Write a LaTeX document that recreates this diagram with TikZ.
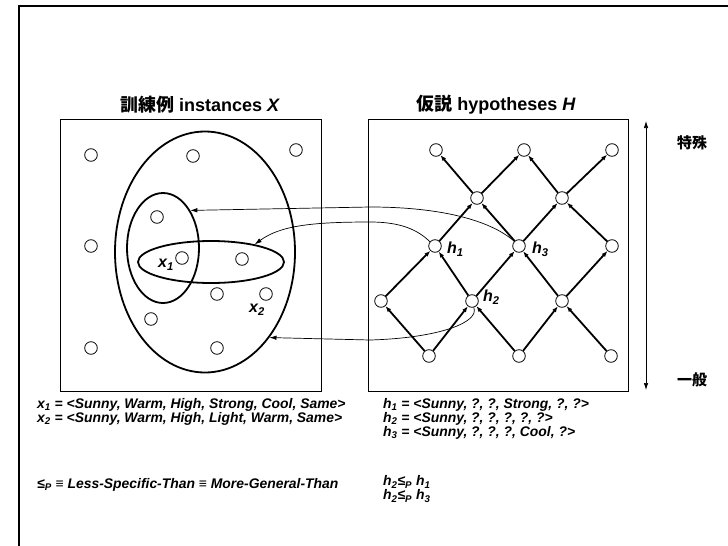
\documentclass[tikz,border=0pt]{standalone}
\usepackage{fontspec}
\setmainfont{Liberation Sans}
\newfontfamily\cjk{Noto Sans CJK JP}
\usetikzlibrary{arrows.meta,shapes.geometric}
\begin{document}
\begin{tikzpicture}[x=1pt,y=-1pt,
  dot/.style={circle,draw,line width=0.8pt,minimum size=12.6pt,inner sep=0pt,fill=white},
  edge/.style={line width=1.8pt,-{Latex[length=6pt,width=4.5pt]}},
  link/.style={line width=0.7pt,-{Latex[length=7pt,width=4.5pt]}},
  oval/.style={ellipse,draw,line width=1.8pt,inner sep=0pt},
  box/.style={draw,line width=0.9pt,inner sep=0pt},
  lbl/.style={font=\fontsize{16}{18}\selectfont\bfseries\itshape,inner sep=0pt,anchor=west},
  txt/.style={font=\fontsize{13.9}{14}\selectfont\bfseries\itshape,inner sep=0pt,anchor=west},
  ttl/.style={font=\fontsize{18}{20}\selectfont\bfseries,inner sep=0pt},
  side/.style={font=\fontsize{15}{16}\selectfont\cjk\bfseries,inner sep=0pt}]
\useasboundingbox (0,0) rectangle (728,546);
\draw[line width=2.5pt] (19,546) -- (19,6) -- (728,6);

% boxes
\node[box,minimum width=261pt,minimum height=272pt] (BX) at (190.5,255) {};
\node[box,minimum width=260pt,minimum height=272pt] (BH) at (498,255) {};

% titles
\node[ttl] (T1) at (200,105) {{\cjk 訓練例} instances \textit{X}};
\node[ttl] (T2) at (496,105) {{\cjk 仮説} hypotheses \textit{H}};

% ellipses
\node[oval,minimum width=180pt,minimum height=241pt] (E1) at (205,252) {};
\node[oval,minimum width=72pt,minimum height=110pt] (E2) at (163,248) {};
\node[oval,minimum width=146pt,minimum height=42pt] (E3) at (211,262) {};

% instance points
\node[dot] (p1) at (91,155) {};
\node[dot] (p2) at (193,156) {};
\node[dot] (p3) at (296,150) {};
\node[dot] (p4) at (91,246) {};
\node[dot] (p5) at (157,217) {};
\node[dot] (X1) at (182,258) {};
\node[dot] (p7) at (242,259) {};
\node[dot] (p8) at (217,294) {};
\node[dot] (X2) at (266,294) {};
\node[dot] (p10) at (151,319) {};
\node[dot] (p11) at (91,348) {};
\node[dot] (p12) at (217,348) {};
\node[lbl] (lx1) at (158,265) {\textit{x}\textsubscript{1}};
\node[lbl] (lx2) at (249,310) {\textit{x}\textsubscript{2}};

% hypothesis lattice
\node[dot] (a1) at (436,150) {};
\node[dot] (a2) at (524,150) {};
\node[dot] (a3) at (612,150) {};
\node[dot] (b1) at (477,198) {};
\node[dot] (b2) at (562,198) {};
\node[dot] (H1) at (435,246) {};
\node[dot] (H3) at (519,246) {};
\node[dot] (c3) at (612,246) {};
\node[dot] (d1) at (381,301) {};
\node[dot] (H2) at (472,301) {};
\node[dot] (d3) at (562,301) {};
\node[dot] (e1) at (429,356) {};
\node[dot] (e2) at (519,356) {};
\node[dot] (e3) at (611,356) {};

\draw[edge] (e1) -- (d1);
\draw[edge] (e1) -- (H2);
\draw[edge] (e2) -- (H2);
\draw[edge] (e2) -- (d3);
\draw[edge] (e3) -- (d3);
\draw[edge] (d1) -- (H1);
\draw[edge] (H2) -- (H1);
\draw[edge] (H2) -- (H3);
\draw[edge] (d3) -- (H3);
\draw[edge] (d3) -- (c3);
\draw[edge] (H1) -- (b1);
\draw[edge] (H3) -- (b1);
\draw[edge] (H3) -- (b2);
\draw[edge] (c3) -- (b2);
\draw[edge] (b1) -- (a1);
\draw[edge] (b1) -- (a2);
\draw[edge] (b2) -- (a2);
\draw[edge] (b2) -- (a3);

\node[lbl] (lh1) at (447,249) {\textit{h}\textsubscript{1}};
\node[lbl] (lh3) at (532,249) {\textit{h}\textsubscript{3}};
\node[lbl] (lh2) at (483,297) {\textit{h}\textsubscript{2}};

% links from hypotheses to instance sets
\draw[link] (H3.135) .. controls (490,220) and (440,207) .. (370,207) -- (E2.54);
\draw[link] (H1.140) .. controls (415,227) and (395,222) .. (370,222) .. controls (310,222) and (280,226) .. (E3.22);
\draw[link] (H2.-75) .. controls (480,322) and (440,338) .. (370,340) -- (E1.-53);

% specific / general axis
\coordinate (up) at (646,121);
\coordinate (dn) at (646,390);
\draw[line width=0.7pt,{Latex[length=7pt,width=4.5pt]}-{Latex[length=7pt,width=4.5pt]}] (up) -- (dn);
\node[side] (sp) at (692,143) {特殊};
\node[side] (gn) at (692,380) {一般};

% text
\node[txt] (tx1) at (37,405) {\textit{x}\textsubscript{1} = <Sunny, Warm, High, Strong, Cool, Same>};
\node[txt] (tx2) at (37,419) {\textit{x}\textsubscript{2} = <Sunny, Warm, High, Light, Warm, Same>};
\node[txt] (tle) at (37,485) {≤\textsubscript{\textit{P}} ≡ Less-Specific-Than ≡ More-General-Than};
\node[txt] (th1) at (383,405) {\textit{h}\textsubscript{1} = <Sunny, ?, ?, Strong, ?, ?>};
\node[txt] (th2) at (383,419) {\textit{h}\textsubscript{2} = <Sunny, ?, ?, ?, ?, ?>};
\node[txt] (th3) at (383,433) {\textit{h}\textsubscript{3} = <Sunny, ?, ?, ?, Cool, ?>};
\node[txt] (r1) at (383,482) {\textit{h}\textsubscript{2}≤\textsubscript{\textit{P}} \textit{h}\textsubscript{1}};
\node[txt] (r2) at (383,496) {\textit{h}\textsubscript{2}≤\textsubscript{\textit{P}} \textit{h}\textsubscript{3}};
\end{tikzpicture}
\end{document}
